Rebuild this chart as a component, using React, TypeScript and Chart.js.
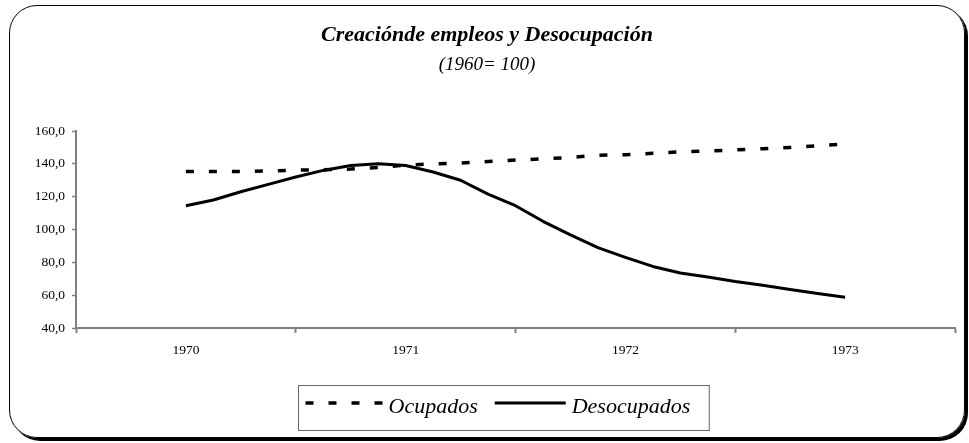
import React, { useEffect, useRef } from 'react';
import { Chart, registerables } from 'chart.js';

Chart.register(...registerables);

// ---- data ----
const yearLabels = ['1970', '1971', '1972', '1973'];
const pointsPerYear = 8;
const ocupados = [
  135.3, 135.3, 135.4, 135.6, 136.2, 136.4, 136.8, 137.8, 139.2, 140.0, 140.5, 141.4, 142.3,
  143.0, 143.9, 145.2, 145.6, 146.4, 147.3, 147.8, 148.5, 149.2, 150.0, 151.0, 152.0,
];
const desocupados = [
  114.5, 118.0, 123.0, 127.5, 132.0, 136.0, 139.0, 140.0, 139.0, 135.0, 130.0, 121.5, 114.5,
  105.0, 96.7, 89.0, 83.0, 77.5, 73.5, 71.0, 68.3, 66.0, 63.5, 61.0, 58.7,
];
const seriesNames = ['Ocupados', 'Desocupados'];
const titleText = 'Creaciónde empleos y Desocupación';
const subtitleText = '(1960= 100)';
const yMin = 40;
const yMax = 160;
const yStep = 20;

const SERIF = '"Liberation Serif", "Times New Roman", serif';
const AXIS_GRAY = '#808080';

const toPoints = (vals: number[]) =>
  vals.map((v, i) => ({ x: pointsPerYear / 2 + i, y: v }));

const titlePlugin = {
  id: 'titles',
  afterDraw(chart: any) {
    const ctx = chart.ctx;
    ctx.save();
    ctx.fillStyle = '#000';
    ctx.textAlign = 'center';
    ctx.textBaseline = 'alphabetic';
    ctx.font = `bold italic 22px ${SERIF}`;
    ctx.fillText(titleText, 487, 41);
    ctx.font = `italic 19px ${SERIF}`;
    ctx.fillText(subtitleText, 487, 70);
    ctx.restore();
  },
};

const legendPlugin = {
  id: 'boxLegend',
  afterDraw(chart: any) {
    const ctx = chart.ctx;
    ctx.save();
    ctx.font = `italic 22px ${SERIF}`;
    const ds = chart.data.datasets;
    const lineLens = [80, 71];
    const gapText = [3, 6];
    const padL = 7;
    const padR = 19;
    const itemGap = 17;
    const widths = ds.map((d: any) => ctx.measureText(d.label).width);
    let total = padL + padR;
    ds.forEach((_: any, i: number) => {
      total += lineLens[i] + gapText[i] + widths[i];
      if (i < ds.length - 1) total += itemGap;
    });
    const left = Math.round(503 - total / 2) + 0.5;
    const top = 385.5;
    const h = 45;
    ctx.strokeStyle = '#666';
    ctx.lineWidth = 1;
    ctx.strokeRect(left, top, total, h);
    let x = left + padL;
    const lineY = 403;
    ds.forEach((d: any, i: number) => {
      ctx.beginPath();
      ctx.setLineDash(d.borderDash || []);
      ctx.lineWidth = d.borderWidth;
      ctx.strokeStyle = d.borderColor;
      ctx.lineCap = 'butt';
      ctx.moveTo(x, lineY);
      ctx.lineTo(x + lineLens[i], lineY);
      ctx.stroke();
      ctx.setLineDash([]);
      x += lineLens[i] + gapText[i];
      ctx.fillStyle = '#000';
      ctx.textAlign = 'left';
      ctx.textBaseline = 'alphabetic';
      ctx.fillText(d.label, x, 413);
      x += widths[i] + itemGap;
    });
    ctx.restore();
  },
};

export default function App() {
  const canvasRef = useRef<HTMLCanvasElement | null>(null);

  useEffect(() => {
    if (!canvasRef.current) return;
    const chart = new Chart(canvasRef.current, {
      type: 'line',
      data: {
        datasets: [
          {
            label: seriesNames[0],
            data: toPoints(ocupados),
            borderColor: '#000',
            borderWidth: 3.5,
            borderDash: [8, 15],
            pointRadius: 0,
            tension: 0,
            fill: false,
          },
          {
            label: seriesNames[1],
            data: toPoints(desocupados),
            borderColor: '#000',
            borderWidth: 3,
            pointRadius: 0,
            tension: 0,
            fill: false,
            borderJoinStyle: 'round',
          },
        ],
      },
      options: {
        responsive: false,
        animation: false,
        devicePixelRatio: 1,
        layout: { padding: { left: 0, right: 14, top: 131, bottom: 85 } },
        plugins: {
          legend: { display: false },
          title: { display: false },
          tooltip: { enabled: false },
        },
        scales: {
          x: {
            type: 'linear',
            min: 0,
            max: pointsPerYear * yearLabels.length,
            afterFit: (s: any) => {
              s.height = 30;
            },
            border: { color: AXIS_GRAY, width: 2 },
            grid: {
              drawOnChartArea: false,
              tickLength: 5,
              tickWidth: 2,
              tickColor: (c: any) =>
                c.tick && c.tick.value % pointsPerYear === 0 ? AXIS_GRAY : 'rgba(0,0,0,0)',
            },
            ticks: {
              stepSize: pointsPerYear / 2,
              autoSkip: false,
              maxRotation: 0,
              padding: 9,
              color: '#000',
              font: { family: SERIF, size: 13.5 },
              callback: (v: any) => {
                const n = Number(v);
                if (n % pointsPerYear === pointsPerYear / 2) {
                  return yearLabels[(n - pointsPerYear / 2) / pointsPerYear];
                }
                return '';
              },
            },
          },
          y: {
            min: yMin,
            max: yMax,
            afterFit: (s: any) => {
              s.width = 76;
            },
            border: { color: AXIS_GRAY, width: 2 },
            grid: {
              drawOnChartArea: false,
              tickLength: 4,
              tickWidth: 1.5,
              tickColor: AXIS_GRAY,
            },
            ticks: {
              stepSize: yStep,
              padding: 7,
              color: '#000',
              font: { family: SERIF, size: 13.5 },
              callback: (v: any) => Number(v).toFixed(1).replace('.', ','),
            },
          },
        },
      },
      plugins: [titlePlugin, legendPlugin],
    });
    return () => chart.destroy();
  }, []);

  return (
    <div>
      <canvas
        ref={canvasRef}
        width={969}
        height={443}
        style={{ position: 'absolute', left: 0, top: 0, display: 'block' }}
      />
      <div
        style={{
          position: 'absolute',
          left: 9,
          top: 5,
          width: 956,
          height: 433,
          boxSizing: 'border-box',
          border: '1.5px solid #000',
          borderRadius: 28,
          boxShadow: '3px 3px 0 #000',
          pointerEvents: 'none',
        }}
      />
    </div>
  );
}
